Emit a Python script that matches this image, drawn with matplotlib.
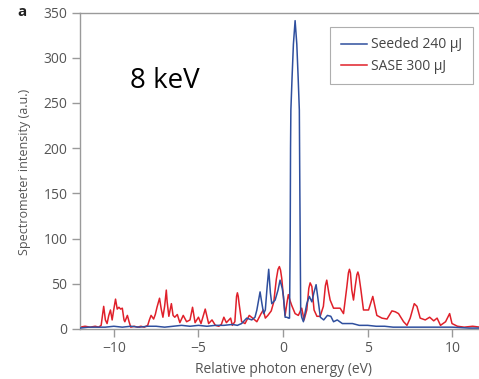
import numpy as np
import matplotlib.pyplot as plt

plt.rcParams['font.family'] = ['Open Sans', 'DejaVu Sans']

# SASE 300 uJ spectrum
sase_x = [-12.0, -11.7, -11.4, -11.1, -10.9, -10.75, -10.6, -10.5, -10.4, -10.3,
          -10.2, -10.1, -10.0, -9.9, -9.8, -9.7, -9.6, -9.5, -9.4, -9.35,
          -9.2, -9.1, -9.0, -8.8, -8.6, -8.4, -8.2, -8.0, -7.9, -7.8,
          -7.65, -7.55, -7.45, -7.3, -7.2, -7.1, -7.0, -6.9, -6.85, -6.75,
          -6.6, -6.5, -6.4, -6.25, -6.1, -5.9, -5.7, -5.5, -5.35, -5.2,
          -5.0, -4.85, -4.6, -4.4, -4.2, -4.0, -3.8, -3.65, -3.5, -3.35,
          -3.1, -3.0, -2.85, -2.75, -2.7, -2.65, -2.6, -2.45, -2.25, -2.0, -1.8, -1.55,
          -1.3, -1.17, -1.05, -0.9, -0.7, -0.55, -0.4, -0.3, -0.22, -0.15, -0.08, 0.02,
          0.12, 0.22, 0.31, 0.4, 0.51, 0.71, 0.9, 1.1, 1.24, 1.4,
          1.52, 1.6, 1.7, 1.83, 2.0, 2.19, 2.38, 2.5, 2.58, 2.7,
          2.78, 2.98, 3.18, 3.37, 3.57, 3.77, 3.86, 3.92, 3.98, 4.06, 4.16, 4.26,
          4.36, 4.42, 4.48, 4.6, 4.75, 5.05, 5.3, 5.54, 5.84, 6.14, 6.43, 6.63,
          6.82, 7.12, 7.32, 7.51, 7.75, 7.91, 8.1, 8.4, 8.66, 8.9,
          9.1, 9.3, 9.6, 9.84, 9.98, 10.3, 10.7, 11.2, 11.6, 12.0]
sase_y = [2, 3, 2, 3, 2, 4, 25, 10, 6, 15,
          21, 10, 22, 33, 22, 24, 22, 23, 10, 8,
          15, 8, 2, 3, 2, 3, 2, 4, 10, 15,
          11, 16, 24, 34, 22, 13, 25, 43, 30, 14,
          28, 15, 13, 16, 7, 15, 8, 10, 24, 7,
          13, 6, 22, 6, 10, 4, 3, 5, 13, 7,
          12, 4, 8, 36, 40, 36, 28, 8, 6, 15, 12, 8,
          17, 21, 12, 15, 20, 30, 55, 66, 69, 65, 56, 36,
          15, 28, 38, 32, 26, 17, 15, 23, 10, 21,
          45, 51, 47, 21, 14, 14, 25, 48, 54, 40,
          32, 23, 23, 23, 17, 47, 62, 66, 62, 43, 32, 47,
          60, 63, 59, 43, 21, 21, 36, 15, 12, 11, 20, 19,
          17, 8, 4, 12, 28, 25, 12, 10, 13, 9,
          12, 4, 8, 17, 6, 3, 2, 3, 2, 2]

# Seeded 240 uJ spectrum
seed_x = [-12.0, -11.5, -11.0, -10.5, -10.0, -9.5, -9.0, -8.5, -8.0, -7.5,
          -7.0, -6.5, -6.0, -5.5, -5.0, -4.5, -4.0, -3.5, -3.0, -2.7,
          -2.45, -2.15, -1.85, -1.66, -1.55, -1.36, -1.25, -1.15, -1.05, -0.95,
          -0.85, -0.75, -0.67, -0.47, -0.3, -0.18, -0.05, 0.02, 0.12, 0.22,
          0.32, 0.38, 0.42, 0.44, 0.46, 0.53, 0.61, 0.71, 0.81, 0.89,
          0.96, 0.99, 1.04, 1.1, 1.2, 1.4, 1.55, 1.7, 1.82, 1.95,
          2.05, 2.2, 2.4, 2.62, 2.82, 2.98, 3.2, 3.5, 4.1, 4.5,
          5.0, 5.5, 6.0, 6.5, 7.0, 8.0, 9.0, 10.0, 11.0, 12.0]
seed_y = [1, 2, 2, 2, 3, 2, 3, 2, 3, 3,
          2, 3, 4, 3, 4, 3, 4, 4, 5, 4,
          6, 12, 10, 13, 21, 41, 28, 17, 21, 45,
          66, 40, 28, 32, 43, 54, 45, 36, 13, 13,
          12, 12, 100, 200, 242, 278, 315, 341, 315, 278,
          242, 153, 20, 13, 8, 28, 36, 30, 40, 49,
          35, 13, 10, 15, 14, 8, 10, 6, 6, 4,
          4, 3, 3, 2, 2, 2, 2, 2, 1, 1]

x_ticks = [-10, -5, 0, 5, 10]
y_ticks = [0, 50, 100, 150, 200, 250, 300, 350]

fig = plt.figure(figsize=(4.79, 3.79), dpi=100)
ax = fig.add_axes([0.167, 0.132, 0.848, 0.835])

ax.plot(seed_x, seed_y, color='#2f4f9e', lw=1.1, label='Seeded 240 μJ', zorder=3)
ax.plot(sase_x, sase_y, color='#e0202a', lw=1.1, label='SASE 300 μJ', zorder=2)

ax.set_xlim(-12, 12)
ax.set_ylim(0, 350)
ax.set_xticks(x_ticks)
ax.set_yticks(y_ticks)
ax.set_xticklabels(['\u2212' + str(-t) if t < 0 else str(t) for t in x_ticks])

grey = '#9a9a9a'
for s in ax.spines.values():
    s.set_color(grey)
    s.set_linewidth(1.0)
ax.tick_params(colors=grey, labelcolor='#555555', labelsize=10, length=6, width=1.0, pad=3)

ax.set_xlabel('Relative photon energy (eV)', fontsize=10, color='#555555', labelpad=4)
fig.text(25 / 479, 1 - 172 / 379, 'Spectrometer intensity (a.u.)', rotation=90,
         ha='center', va='center', fontsize=9, color='#555555')

ax.text(-9.05, 267, '8 keV', fontsize=20, color='black')
fig.text(17 / 479, 1 - 16 / 379, 'a', fontsize=11, fontweight='bold', color='#222222')

leg = ax.legend(loc='upper right', bbox_to_anchor=(473 / 479, 1 - 27 / 379),
                bbox_transform=fig.transFigure, fontsize=10, frameon=True,
                fancybox=False, handlelength=1.9, handletextpad=0.3,
                borderpad=0.75, labelspacing=0.45, borderaxespad=0,
                labelcolor='#444444')
leg.get_frame().set_edgecolor(grey)
leg.get_frame().set_linewidth(0.8)

fig.savefig('out.png', dpi=100)
